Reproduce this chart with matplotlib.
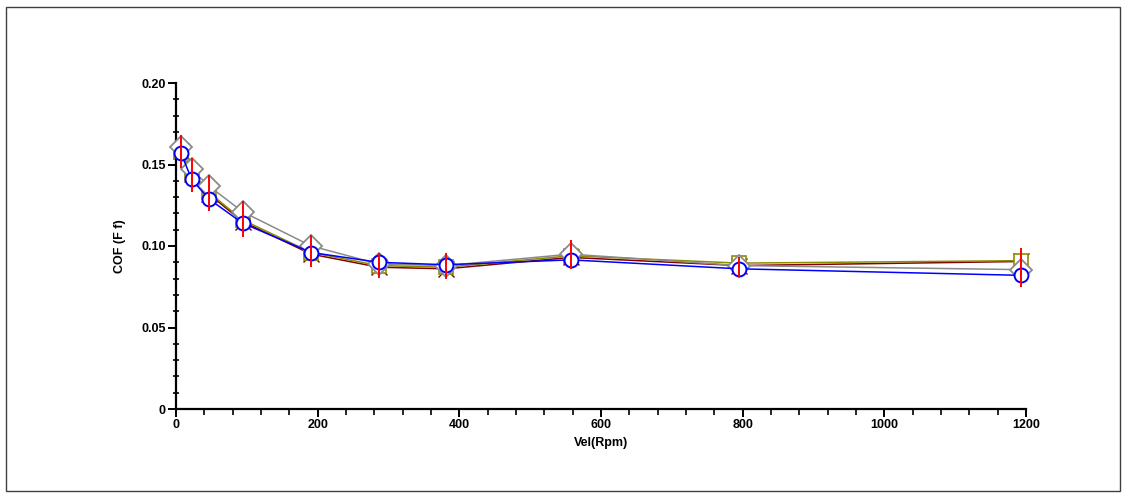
import matplotlib
matplotlib.use("Agg")
import matplotlib.pyplot as plt
from matplotlib.patches import Rectangle
from matplotlib.ticker import MultipleLocator, FixedLocator

plt.rcParams['font.family'] = ['Liberation Sans', 'DejaVu Sans']
plt.rcParams['font.weight'] = 'bold'

# Data
vel = [7, 22, 46, 94, 191, 286, 381, 557, 795, 1193]
cof_darkred = [0.158, 0.144, 0.132, 0.115, 0.095, 0.087, 0.086, 0.093, 0.088, 0.0905]
cof_olive = [0.158, 0.145, 0.133, 0.116, 0.096, 0.088, 0.087, 0.094, 0.0895, 0.091]
cof_gray = [0.161, 0.147, 0.137, 0.121, 0.100, 0.089, 0.088, 0.095, 0.088, 0.0855]
cof_blue = [0.157, 0.141, 0.129, 0.114, 0.096, 0.090, 0.0885, 0.0915, 0.086, 0.082]
cof_red_mean = [0.158, 0.1435, 0.1325, 0.1165, 0.097, 0.088, 0.088, 0.0948, 0.0873, 0.0868]
cof_red_err = [0.010, 0.0104, 0.011, 0.011, 0.0098, 0.0077, 0.008, 0.0089, 0.0061, 0.012]

x_ticks = [0, 200, 400, 600, 800, 1000, 1200]
y_ticks = [0, 0.05, 0.10, 0.15, 0.20]
y_ticklabels = ['0', '0.05', '0.10', '0.15', '0.20']

fig = plt.figure(figsize=(11.28, 5.0), dpi=100)
ax = fig.add_axes([176/1128, 1 - 409/500, 850/1128, 326/500])

lw = 1.1
ax.plot(vel, cof_darkred, color='#800000', lw=lw, marker='x', ms=12, mew=1.0, zorder=2, clip_on=False)
ax.plot(vel, cof_olive, color='#8c8c00', lw=lw, marker='s', ms=9.5, mfc='white', mew=1.2, zorder=3, clip_on=False)
ax.plot(vel, cof_gray, color='#8a8a8a', lw=lw, marker='D', ms=11, mfc='white', mew=1.3, zorder=4, clip_on=False)
ax.plot(vel, cof_blue, color='#0000ff', lw=lw, marker='o', ms=10, mfc='white', mew=1.4, zorder=5, clip_on=False)
ax.errorbar(vel, cof_red_mean, yerr=cof_red_err, fmt='none', ecolor='#ff0000', elinewidth=1.4, capsize=0, zorder=6, clip_on=False)

ax.set_xlim(0, 1200)
ax.set_ylim(0, 0.20)
ax.xaxis.set_major_locator(FixedLocator(x_ticks))
ax.xaxis.set_minor_locator(MultipleLocator(40))
ax.yaxis.set_major_locator(FixedLocator(y_ticks))
ax.yaxis.set_minor_locator(MultipleLocator(0.01))
ax.set_yticklabels(y_ticklabels)
ax.set_xticklabels([str(v) for v in x_ticks])

for s in ['top', 'right']:
    ax.spines[s].set_visible(False)
for s in ['left', 'bottom']:
    ax.spines[s].set_linewidth(1.6)

ax.tick_params(axis='both', which='major', direction='out', length=6, width=1.4, labelsize=9, pad=1.5)
ax.tick_params(axis='y', which='minor', direction='inout', length=5, width=1.2)
ax.tick_params(axis='x', which='minor', direction='out', length=4, width=1.2)
for lab in ax.get_xticklabels() + ax.get_yticklabels():
    lab.set_fontweight('bold')

ax.set_xlabel('Vel(Rpm)', fontsize=9, fontweight='bold', labelpad=4)
ax.set_ylabel('COF (F f)', fontsize=9, fontweight='bold', labelpad=11)

fig.patches.append(Rectangle((6/1128, 1 - 491/500), (1120 - 6)/1128, (491 - 7)/500,
                             transform=fig.transFigure, fill=False, edgecolor='#404040', lw=1.0))

fig.savefig('out.png', dpi=100)
